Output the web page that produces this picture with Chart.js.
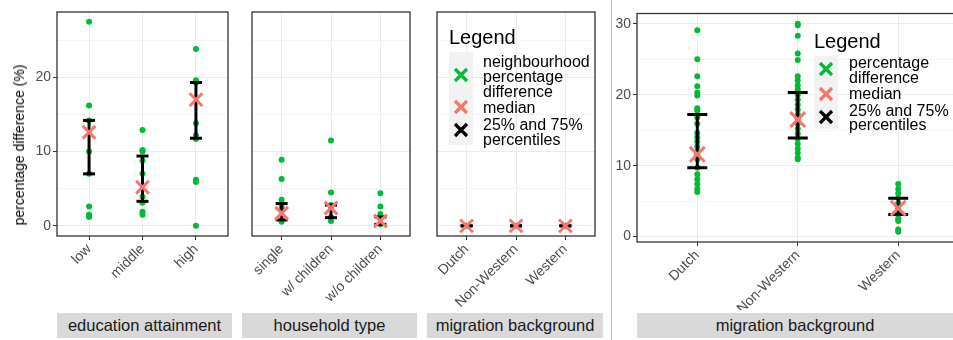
<!DOCTYPE html>
<html>
<head>
<meta charset="utf-8">
<script src="https://cdn.jsdelivr.net/npm/chart.js@4.4.0/dist/chart.umd.min.js"></script>
<style>
  body { margin: 0; width: 953px; height: 340px; overflow: hidden; background: #fff; position: relative;
         font-family: "Liberation Sans", Arial, sans-serif; }
  canvas { position: absolute; top: 0; }
  .strip { position: absolute; top: 313px; height: 25px; background: #D9D9D9; color: #1A1A1A;
           font-size: 16.5px; line-height: 25px; text-align: center; white-space: nowrap; }
  .sep { position: absolute; left: 611px; top: 0; width: 1px; height: 340px; background: #BDBDBD; }
  .ytitle { position: absolute; left: 19px; top: 145px; transform: translate(-50%, -50%) rotate(-90deg);
            font-size: 14px; color: #000; white-space: nowrap; }
  .legend { position: absolute; color: #000; white-space: nowrap; }
  .legend .title { position: absolute; font-size: 20px; }
  .legend .keys { position: absolute; width: 24px; background: #F2F2F2; }
  .legend .lab { position: absolute; font-size: 16px; }
  .legend svg { position: absolute; }
</style>
</head>
<body>
<canvas id="c1" width="240" height="310" style="left:0px"></canvas>
<canvas id="c2" width="182" height="310" style="left:240px"></canvas>
<canvas id="c3" width="182" height="310" style="left:425px"></canvas>
<canvas id="c4" width="360" height="310" style="left:612px"></canvas>

<div class="sep"></div>
<div class="ytitle">percentage difference (%)</div>

<div class="strip" style="left:57px;width:175px">education attainment</div>
<div class="strip" style="left:242px;width:175px">household type</div>
<div class="strip" style="left:427px;width:176px">migration background</div>
<div class="strip" style="left:637px;width:316px">migration background</div>

<div id="leg1" class="legend"></div>
<div id="leg2" class="legend"></div>

<script>
// education attainment
const eduCats = ['low', 'middle', 'high'];
const eduPoints = [
  [27.5, 16.2, 14.2, 10.0, 7.0, 2.6, 1.5, 1.2],
  [12.9, 10.2, 10.0, 8.8, 7.0, 3.9, 3.1, 1.9, 1.5],
  [23.8, 19.6, 19.3, 13.8, 12.2, 11.7, 6.2, 5.9, 0]
];
const eduMedian = [12.6, 5.2, 17.0];
const eduQ25 = [7.0, 3.3, 11.8];
const eduQ75 = [14.2, 9.4, 19.3];

// household type
const hhCats = ['single', 'w/ children', 'w/o children'];
const hhPoints = [
  [8.9, 6.3, 3.5, 2.5, 0.75, 0.55],
  [11.5, 4.5, 2.8, 2.5, 1.2, 0.65],
  [4.4, 2.6, 1.6, 1.2, 0.2]
];
const hhMedian = [1.7, 2.4, 0.65];
const hhQ25 = [0.8, 1.1, 0.2];
const hhQ75 = [3.0, 2.8, 1.2];

// migration background (neighbourhood)
const migCats = ['Dutch', 'Non-Western', 'Western'];
const migPoints = [[0], [0], [0]];
const migMedian = [0, 0, 0];
const migQ25 = [0, 0, 0];
const migQ75 = [0, 0, 0];

// migration background (percentage difference)
const mig2Points = [
  [29.1, 25.0, 22.6, 21.2, 20.3, 19.9, 18.1, 17.8, 17.2, 16.8, 15.9, 14.6, 14.0, 13.4, 12.7, 12.0, 11.6, 10.9, 9.7, 8.8, 8.1, 7.4, 6.7, 6.3],
  [30.0, 29.8, 28.3, 25.8, 24.9, 22.6, 22.0, 21.3, 20.7, 20.0, 19.3, 18.6, 17.9, 17.2, 16.6, 15.9, 15.2, 14.5, 13.8, 13.1, 12.4, 11.8, 11.1, 10.9],
  [7.4, 6.7, 6.1, 5.4, 4.7, 4.0, 3.3, 2.6, 2.2, 1.0, 0.7]
];
const mig2Median = [11.6, 16.5, 4.0];
const mig2Q25 = [9.7, 13.9, 3.1];
const mig2Q75 = [17.2, 20.3, 5.4];

const yTicksLeft = [0, 5, 10, 15, 20, 25];
const yTicksRight = [0, 5, 10, 15, 20, 25, 30];

const green = '#00BA38', pink = '#F8766D';
const fontFam = '"Liberation Sans", Arial, sans-serif';

// panel border on top of everything
const borderPlugin = {
  id: 'panelBorder',
  afterDraw(chart) {
    const a = chart.chartArea, ctx = chart.ctx;
    ctx.save();
    ctx.strokeStyle = '#333333';
    ctx.lineWidth = 1.3;
    ctx.strokeRect(a.left, a.top, a.right - a.left, a.bottom - a.top);
    ctx.restore();
  }
};

function makePanel(id, cats, pts, med, lo, hi, cfg) {
  let datasets = [];
  datasets.push({
    data: cats.map((c, i) => ({x: i + 1, y: med[i]})),
    pointStyle: 'crossRot', pointRadius: cfg.xr, pointBorderColor: pink,
    pointBorderWidth: 3, order: 0
  });
  cats.forEach((c, i) => {
    datasets.push({
      data: [{x: i + 1, y: lo[i]}, {x: i + 1, y: hi[i]}],
      showLine: true, borderColor: '#000', borderWidth: 3,
      pointStyle: 'line', pointRadius: cfg.cap, pointBorderColor: '#000',
      pointBorderWidth: 3, order: 1
    });
  });
  let flat = [];
  pts.forEach((arr, i) => arr.forEach(v => flat.push({x: i + 1, y: v})));
  datasets.push({
    data: flat, pointRadius: 3, pointBackgroundColor: green,
    pointBorderWidth: 0, order: 2
  });

  new Chart(document.getElementById(id), {
    type: 'scatter',
    data: {datasets: datasets},
    plugins: [borderPlugin],
    options: {
      responsive: false,
      animation: false,
      events: [],
      layout: {padding: {top: 6, right: cfg.padR, left: 0, bottom: 0}},
      plugins: {legend: {display: false}, tooltip: {enabled: false}},
      scales: {
        x: {
          type: 'linear', min: 0.4, max: 3.6,
          afterBuildTicks: s => { s.ticks = [1, 2, 3].map(v => ({value: v})); },
          afterFit: s => { s.height = cfg.xh; s.paddingLeft = 0; s.paddingRight = 0; },
          border: {display: false},
          grid: {color: '#EBEBEB', lineWidth: 1, tickLength: 4, tickColor: '#333333', tickWidth: 1},
          ticks: {
            minRotation: 45, maxRotation: 45, padding: 1,
            color: '#4D4D4D', font: {family: fontFam, size: 14},
            callback: v => cats[v - 1]
          }
        },
        y: {
          type: 'linear', min: cfg.ymin, max: cfg.ymax,
          afterBuildTicks: s => { s.ticks = cfg.yticks.map(v => ({value: v})); },
          afterFit: s => { s.width = cfg.yw; s.paddingTop = 0; s.paddingBottom = 0; },
          border: {display: false},
          grid: {
            color: c => (c.tick && c.tick.value % 10 === 0) ? '#EBEBEB' : '#F5F5F5',
            lineWidth: 1, tickLength: 4, tickWidth: 1,
            drawTicks: cfg.showY,
            tickColor: c => (c.tick && c.tick.value % 10 === 0) ? '#333333' : 'rgba(0,0,0,0)'
          },
          ticks: {
            display: cfg.showY, padding: 2,
            color: '#4D4D4D', font: {family: fontFam, size: 14},
            callback: v => (v % 10 === 0 ? String(v) : '')
          }
        }
      }
    }
  });
}

const left = {ymin: -1.37, ymax: 28.8, yticks: yTicksLeft, xr: 9, cap: 6, xh: 74};
makePanel('c1', eduCats, eduPoints, eduMedian, eduQ25, eduQ75, Object.assign({}, left, {yw: 57, padR: 8, showY: true}));
makePanel('c2', hhCats, hhPoints, hhMedian, hhQ25, hhQ75, Object.assign({}, left, {yw: 2, padR: 5, showY: false}));
makePanel('c3', migCats, migPoints, migMedian, migQ25, migQ75, Object.assign({}, left, {yw: 2, padR: 4, showY: false}));
makePanel('c4', migCats, mig2Points, mig2Median, mig2Q25, mig2Q75,
  {ymin: -0.76, ymax: 31.45, yticks: yTicksRight, xr: 10.5, cap: 10, xh: 68, yw: 25, padR: 12, showY: true});

// legends (html text + small svg keys)
function xKey(color) {
  return '<svg width="16" height="16" viewBox="0 0 16 16"><path d="M2 2L14 14M14 2L2 14" stroke="' + color + '" stroke-width="3.2"/></svg>';
}
function buildLegend(elId, cfg) {
  const el = document.getElementById(elId);
  let html = '<div class="title" style="left:' + cfg.x + 'px;top:' + cfg.titleTop + 'px">Legend</div>';
  html += '<div class="keys" style="left:' + cfg.x + 'px;top:' + cfg.boxTop + 'px;height:' + cfg.boxH + 'px"></div>';
  cfg.items.forEach(it => {
    html += '<div style="position:absolute;left:' + (cfg.x + 4) + 'px;top:' + (it.keyY - 8) + 'px">' + xKey(it.color) + '</div>';
    html += '<div class="lab" style="left:' + cfg.labX + 'px;top:' + it.top + 'px;line-height:' + cfg.lineH + 'px">' + it.lines.join('<br>') + '</div>';
  });
  el.innerHTML = html;
}
buildLegend('leg1', {
  x: 449, labX: 483, titleTop: 26, boxTop: 52, boxH: 93, lineH: 15,
  items: [
    {color: green, keyY: 75, top: 53.5, lines: ['neighbourhood', 'percentage', 'difference']},
    {color: pink, keyY: 107, top: 99.5, lines: ['median']},
    {color: '#000', keyY: 130, top: 116.5, lines: ['25% and 75%', 'percentiles']}
  ]
});
buildLegend('leg2', {
  x: 814, labX: 849, titleTop: 30, boxTop: 56, boxH: 73, lineH: 14.5,
  items: [
    {color: green, keyY: 69, top: 56, lines: ['percentage', 'difference']},
    {color: pink, keyY: 94, top: 86.75, lines: ['median']},
    {color: '#000', keyY: 117, top: 103.5, lines: ['25% and 75%', 'percentiles']}
  ]
});
</script>
</body>
</html>
